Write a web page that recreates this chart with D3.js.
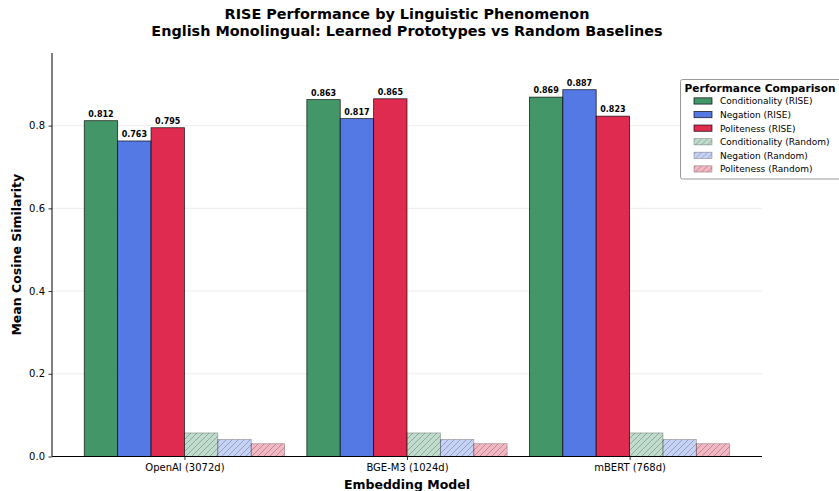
<!DOCTYPE html>
<html>
<head>
<meta charset="utf-8">
<script src="https://cdn.jsdelivr.net/npm/d3@7"></script>
<style>
  html, body { margin: 0; padding: 0; background: #fff; }
  svg { display: block; font-family: "DejaVu Sans", sans-serif; }
</style>
</head>
<body>
<svg id="chart" width="839" height="491"></svg>
<script>
// Embedding models on the x axis
const models = ["OpenAI (3072d)", "BGE-M3 (1024d)", "mBERT (768d)"];

// Mean cosine similarity of learned RISE prototypes
const conditionalityRise = [0.812, 0.863, 0.869];
const negationRise       = [0.763, 0.817, 0.887];
const politenessRise     = [0.795, 0.865, 0.823];

// Random-prototype baselines
const conditionalityRandom = [0.057, 0.057, 0.057];
const negationRandom       = [0.041, 0.041, 0.041];
const politenessRandom     = [0.031, 0.031, 0.031];

const yTicks = [0.0, 0.2, 0.4, 0.6, 0.8];

const seriesList = [
  { name: "Conditionality (RISE)",   values: conditionalityRise,   color: "#2e8b57", random: false, label: true },
  { name: "Negation (RISE)",         values: negationRise,         color: "#4169e1", random: false, label: true },
  { name: "Politeness (RISE)",       values: politenessRise,       color: "#dc143c", random: false, label: true },
  { name: "Conditionality (Random)", values: conditionalityRandom, color: "#2e8b57", random: true,  label: false },
  { name: "Negation (Random)",       values: negationRandom,       color: "#4169e1", random: true,  label: false },
  { name: "Politeness (Random)",     values: politenessRandom,     color: "#dc143c", random: true,  label: false }
];

const svg = d3.select("#chart");
const plot = { left: 52, right: 762, top: 53, bottom: 456.5 };

const barW = 0.15;
const nBars = seriesList.length;
const xMinData = -0.5 * nBars * barW, xMaxData = models.length - 1 + 0.5 * nBars * barW;
const xPad = 0.05 * (xMaxData - xMinData);
const x = d3.scaleLinear()
  .domain([xMinData - xPad, xMaxData + xPad])
  .range([plot.left, plot.right]);

const maxVal = d3.max(seriesList, s => d3.max(s.values));
const y = d3.scaleLinear()
  .domain([0, maxVal * 1.1])
  .range([plot.bottom, plot.top]);

// Hatch patterns for the random baselines
const defs = svg.append("defs");
seriesList.filter(s => s.random).forEach((s, i) => {
  const p = defs.append("pattern")
    .attr("id", "hatch" + i)
    .attr("patternUnits", "userSpaceOnUse")
    .attr("width", 6).attr("height", 6);
  p.append("rect").attr("width", 6).attr("height", 6)
    .attr("fill", s.color).attr("fill-opacity", 0.3);
  p.append("path")
    .attr("d", "M-1,1 L1,-1 M0,6 L6,0 M5,7 L7,5")
    .attr("stroke", "#000").attr("stroke-opacity", 0.3)
    .attr("stroke-width", 0.8);
  s.pattern = "url(#hatch" + i + ")";
});

// Grid lines
svg.append("g").selectAll("line")
  .data(yTicks)
  .join("line")
  .attr("x1", plot.left).attr("x2", plot.right)
  .attr("y1", d => y(d)).attr("y2", d => y(d))
  .attr("stroke", "#b0b0b0").attr("stroke-opacity", 0.3)
  .attr("stroke-width", 0.8);

// Bars
seriesList.forEach((s, si) => {
  const offset = (si - (nBars - 1) / 2) * barW;
  const g = svg.append("g");
  g.selectAll("rect")
    .data(s.values)
    .join("rect")
    .attr("x", (d, i) => x(i + offset - barW / 2))
    .attr("width", x(barW) - x(0))
    .attr("y", d => y(d))
    .attr("height", d => y(0) - y(d))
    .attr("fill", s.random ? s.pattern : s.color)
    .attr("fill-opacity", s.random ? 1 : 0.9)
    .attr("stroke", "#000")
    .attr("stroke-opacity", s.random ? 0.3 : 0.8)
    .attr("stroke-width", 0.8);
  if (s.label) {
    g.selectAll("text")
      .data(s.values)
      .join("text")
      .attr("x", (d, i) => x(i + offset))
      .attr("y", d => y(d) - 4)
      .attr("text-anchor", "middle")
      .attr("font-size", 8)
      .attr("font-weight", "bold")
      .attr("fill", "#000")
      .text(d => d3.format(".3f")(d));
  }
});

// Axes
const yAxis = d3.axisLeft(y).tickValues(yTicks).tickFormat(d3.format(".1f")).tickSize(3.5).tickPadding(3.5);
const gy = svg.append("g").attr("transform", `translate(${plot.left},0)`).call(yAxis);
const xAxis = d3.axisBottom(x).tickValues(d3.range(models.length)).tickFormat(i => models[i]).tickSize(3.5).tickPadding(3.5);
const gx = svg.append("g").attr("transform", `translate(0,${plot.bottom})`).call(xAxis);

[gx, gy].forEach(g => {
  g.select(".domain").remove();
  g.selectAll("text").attr("font-size", 10).attr("fill", "#000")
    .attr("font-family", "DejaVu Sans, sans-serif");
  g.selectAll("line").attr("stroke", "#000").attr("stroke-width", 0.8);
});

// Spines (left and bottom only)
svg.append("line")
  .attr("x1", plot.left).attr("x2", plot.left)
  .attr("y1", plot.top).attr("y2", plot.bottom)
  .attr("stroke", "#000").attr("stroke-width", 1);
svg.append("line")
  .attr("x1", plot.left).attr("x2", plot.right)
  .attr("y1", plot.bottom).attr("y2", plot.bottom)
  .attr("stroke", "#000").attr("stroke-width", 1);

// Axis labels
const cx = (plot.left + plot.right) / 2;
svg.append("text")
  .attr("x", cx).attr("y", 488.5)
  .attr("text-anchor", "middle")
  .attr("font-size", 12.5).attr("font-weight", "bold")
  .text("Embedding Model");
svg.append("text")
  .attr("transform", `translate(21,${(plot.top + plot.bottom) / 2}) rotate(-90)`)
  .attr("text-anchor", "middle")
  .attr("font-size", 12.5).attr("font-weight", "bold")
  .text("Mean Cosine Similarity");

// Title
svg.append("text")
  .attr("x", cx).attr("y", 19)
  .attr("text-anchor", "middle")
  .attr("font-size", 14.4).attr("font-weight", "bold")
  .text("RISE Performance by Linguistic Phenomenon");
svg.append("text")
  .attr("x", cx).attr("y", 36)
  .attr("text-anchor", "middle")
  .attr("font-size", 14.4).attr("font-weight", "bold")
  .text("English Monolingual: Learned Prototypes vs Random Baselines");

// Legend
const lg = svg.append("g").attr("transform", "translate(680.5,79.5)");
lg.append("rect")
  .attr("x", 0).attr("y", 0)
  .attr("width", 185).attr("height", 99.5)
  .attr("rx", 2)
  .attr("fill", "#fff").attr("fill-opacity", 0.9)
  .attr("stroke", "#999").attr("stroke-width", 1);
lg.append("text")
  .attr("x", 4).attr("y", 12)
  .attr("font-size", 10.6).attr("font-weight", "bold")
  .text("Performance Comparison");
const rows = lg.selectAll("g.row")
  .data(seriesList)
  .join("g")
  .attr("class", "row")
  .attr("transform", (d, i) => `translate(0,${21.5 + i * 13.6})`);
rows.append("rect")
  .attr("x", 13.5).attr("y", -3.2)
  .attr("width", 18).attr("height", 6.3)
  .attr("fill", d => d.random ? d.pattern : d.color)
  .attr("fill-opacity", d => d.random ? 1 : 0.9)
  .attr("stroke", "#000")
  .attr("stroke-opacity", d => d.random ? 0.3 : 0.8)
  .attr("stroke-width", 0.8);
rows.append("text")
  .attr("x", 39.5).attr("y", 3.3)
  .attr("font-size", 9)
  .text(d => d.name);
</script>
</body>
</html>
